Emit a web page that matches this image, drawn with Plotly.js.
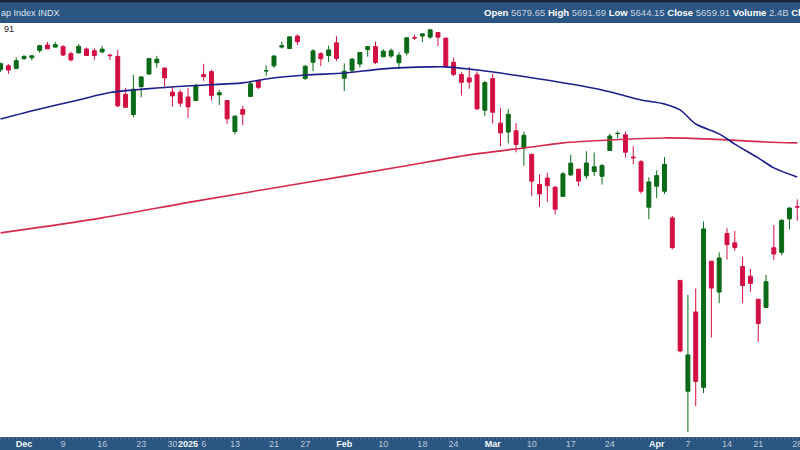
<!DOCTYPE html>
<html>
<head>
<meta charset="utf-8">
<script src="https://cdn.plot.ly/plotly-3.0.1.min.js"></script>
<style>html,body{margin:0;padding:0;background:#fff;}#chart{width:800px;height:450px;}</style>
</head>
<body>
<div id="chart"></div>
<script>
// Daily trading dates (S&P 500 Large Cap Index, daily candles)
var dates = ['2024-11-26','2024-11-27','2024-11-29','2024-12-02','2024-12-03','2024-12-04','2024-12-05','2024-12-06','2024-12-09','2024-12-10','2024-12-11','2024-12-12','2024-12-13','2024-12-16','2024-12-17','2024-12-18','2024-12-19','2024-12-20','2024-12-23','2024-12-24','2024-12-26','2024-12-27','2024-12-30','2024-12-31','2025-01-02','2025-01-03','2025-01-06','2025-01-07','2025-01-08','2025-01-10','2025-01-13','2025-01-14','2025-01-15','2025-01-16','2025-01-17','2025-01-21','2025-01-22','2025-01-23','2025-01-24','2025-01-27','2025-01-28','2025-01-29','2025-01-30','2025-01-31','2025-02-03','2025-02-04','2025-02-05','2025-02-06','2025-02-07','2025-02-10','2025-02-11','2025-02-12','2025-02-13','2025-02-14','2025-02-18','2025-02-19','2025-02-20','2025-02-21','2025-02-24','2025-02-25','2025-02-26','2025-02-27','2025-02-28','2025-03-03','2025-03-04','2025-03-05','2025-03-06','2025-03-07','2025-03-10','2025-03-11','2025-03-12','2025-03-13','2025-03-14','2025-03-17','2025-03-18','2025-03-19','2025-03-20','2025-03-21','2025-03-24','2025-03-25','2025-03-26','2025-03-27','2025-03-28','2025-03-31','2025-04-01','2025-04-02','2025-04-03','2025-04-04','2025-04-07','2025-04-08','2025-04-09','2025-04-10','2025-04-11','2025-04-14','2025-04-15','2025-04-16','2025-04-17','2025-04-21','2025-04-22','2025-04-23','2025-04-24','2025-04-25','2025-04-28'];

var openP = [6000.03,6014.11,6003.98,6040.11,6042.97,6069.39,6089.03,6081.38,6083.01,6057.59,6060.15,6074.29,6068.17,6063.79,6052.55,6047.65,5912.71,5842.00,5940.25,5984.63,6024.97,6006.17,5920.67,5919.74,5903.26,5891.07,5982.81,5993.26,5910.66,5890.66,5782.93,5859.15,5905.21,5961.62,5995.37,6014.12,6081.39,6076.32,6121.43,5969.04,6026.97,6057.70,6050.75,6096.79,5969.65,5998.14,6020.45,6072.22,6083.13,6046.40,6049.32,6025.08,6060.59,6115.52,6121.60,6117.76,6134.50,6114.10,6026.69,5982.73,5970.87,5981.88,5856.74,5968.33,5811.98,5781.41,5785.87,5726.01,5705.37,5603.65,5624.84,5594.45,5563.85,5635.60,5654.53,5632.37,5646.92,5630.73,5718.08,5775.86,5771.66,5695.64,5679.71,5527.91,5597.53,5580.76,5492.74,5292.14,4953.79,5193.57,4965.28,5353.15,5255.56,5441.96,5411.99,5335.75,5305.45,5232.94,5207.67,5395.92,5381.38,5489.73,5529.22];
var highP = [6025.42,6020.16,6044.17,6053.58,6052.07,6089.84,6099.97,6099.97,6088.51,6065.40,6092.59,6079.68,6078.58,6085.19,6057.68,6070.67,5935.52,5982.06,5978.25,6040.10,6049.75,6006.17,5940.79,5929.74,5935.09,5949.34,6021.04,6000.68,5927.89,5890.66,5838.81,5871.92,5960.61,5964.69,6014.96,6051.51,6100.81,6118.73,6128.18,6017.17,6074.54,6062.83,6086.64,6120.91,6022.13,6042.48,6062.86,6084.03,6101.28,6073.38,6076.28,6063.00,6116.91,6127.47,6129.63,6147.43,6134.50,6114.82,6043.65,5992.65,6009.82,5993.69,5959.40,5986.09,5865.08,5860.59,5812.08,5783.01,5705.37,5636.30,5642.19,5597.78,5645.27,5703.52,5654.53,5715.33,5711.15,5670.84,5775.14,5783.71,5783.62,5732.28,5685.89,5627.56,5650.57,5695.31,5499.53,5292.14,5246.41,5267.47,5481.34,5353.15,5381.46,5459.46,5450.41,5367.24,5328.31,5232.94,5309.60,5469.69,5489.40,5528.11,5553.66];
var lowP = [5992.27,5984.87,6003.98,6035.33,6033.39,6061.06,6079.98,6079.98,6048.63,6029.89,6060.15,6051.25,6035.77,6059.14,6035.19,5867.79,5866.07,5832.30,5902.57,5981.44,6007.37,5932.95,5869.16,5868.86,5829.53,5888.66,5960.01,5890.68,5874.78,5809.89,5773.31,5805.08,5905.21,5930.94,5978.44,6006.88,6076.13,6074.67,6088.74,5962.92,5994.63,6012.96,6027.46,6030.93,5923.93,5990.87,6007.06,6046.83,6019.96,6044.84,6042.34,6003.00,6051.01,6107.62,6099.51,6111.15,6084.59,6008.56,5977.83,5908.49,5932.69,5858.78,5837.66,5810.91,5732.59,5742.35,5711.64,5666.29,5564.02,5528.41,5546.09,5504.65,5563.85,5631.12,5597.76,5622.20,5632.33,5603.10,5718.08,5759.81,5694.41,5670.94,5572.42,5488.73,5558.52,5571.48,5390.83,5069.90,4835.04,4910.42,4948.43,5115.27,5220.77,5358.02,5386.44,5220.79,5255.58,5101.63,5207.67,5356.81,5371.96,5455.86,5483.37];
var closeP = [6021.63,5998.74,6032.38,6047.15,6049.88,6086.49,6075.11,6090.27,6052.85,6034.91,6084.19,6051.25,6051.09,6074.08,6050.61,5872.16,5867.08,5930.85,5974.07,6040.04,6037.59,5970.84,5906.94,5881.63,5868.55,5942.47,5975.38,5909.03,5918.25,5827.04,5836.22,5842.91,5949.91,5937.34,5996.66,6049.24,6086.37,6118.71,6101.24,6012.28,6067.70,6039.31,6071.17,6040.53,5994.57,6037.88,6061.48,6083.57,6025.99,6066.44,6068.50,6051.97,6115.07,6114.63,6129.58,6144.15,6117.52,6013.13,5983.25,5955.25,5956.06,5861.57,5954.50,5849.72,5778.15,5842.63,5738.52,5770.20,5614.56,5572.07,5599.30,5521.52,5638.94,5675.12,5614.66,5675.29,5662.89,5667.56,5767.57,5776.65,5712.20,5693.31,5580.94,5611.85,5633.07,5670.97,5396.52,5074.08,5062.25,4982.77,5456.90,5268.05,5363.36,5405.97,5396.63,5275.70,5282.70,5158.20,5287.76,5375.86,5484.77,5525.21,5528.75];

// 50-day moving average
var ma50Dates = ['2024-11-26','2024-12-04','2024-12-11','2024-12-17','2024-12-20','2024-12-26','2025-01-03','2025-01-14','2025-01-17','2025-01-27','2025-02-03','2025-02-10','2025-02-19','2025-02-21','2025-02-27','2025-03-04','2025-03-11','2025-03-17','2025-03-21','2025-03-26','2025-03-28','2025-04-02','2025-04-04','2025-04-08','2025-04-11','2025-04-15','2025-04-21','2025-04-23','2025-04-28'];
var ma50 = [5826,5861,5893,5919,5928,5935,5944,5953,5967,5981,5988,6003,6010,6010,5999,5988,5967,5949,5928,5907,5893,5879,5858,5809,5775,5740,5693,5659,5628];

// 200-day moving average
var ma200Dates = ['2024-11-26','2024-12-16','2025-01-03','2025-01-24','2025-02-12','2025-02-26','2025-03-10','2025-03-14','2025-03-24','2025-04-02','2025-04-10','2025-04-22','2025-04-28'];
var ma200 = [5444,5493,5548,5605,5662,5703,5730,5744,5754,5761,5757,5747,5744];

// x-axis tick labels
var tickDates = ['2024-12-02','2024-12-09','2024-12-16','2024-12-23','2024-12-30','2025-01-02','2025-01-06','2025-01-13','2025-01-21','2025-01-27','2025-02-03','2025-02-10','2025-02-18','2025-02-24','2025-03-03','2025-03-10','2025-03-17','2025-03-24','2025-04-01','2025-04-07','2025-04-14','2025-04-21','2025-04-28'];
var tickLabels = ['Dec','9','16','23','30','2025','6','13','21','27','Feb','10','18','24','Mar','10','17','24','Apr','7','14','21','28'];
var boldLabels = ['Dec','2025','Feb','Mar','Apr'];

var ticktext = tickLabels.map(function(t){
  return boldLabels.indexOf(t) >= 0 ? '<b><span style="color:#f4f7fa">' + t + '</span></b>' : t;
});

var GREEN = '#0a6a17', RED = '#d20f43', BAND = '#2b5681';

var traces = [
  {
    type: 'candlestick', x: dates, open: openP, high: highP, low: lowP, close: closeP,
    increasing: {line: {color: GREEN, width: 1}, fillcolor: GREEN},
    decreasing: {line: {color: RED, width: 1}, fillcolor: RED},
    whiskerwidth: 0, hoverinfo: 'none', showlegend: false
  },
  {
    type: 'scatter', mode: 'lines', x: ma200Dates, y: ma200,
    line: {color: '#d5294f', width: 1.6, shape: 'spline', smoothing: 0.8}, hoverinfo: 'none', showlegend: false
  },
  {
    type: 'scatter', mode: 'lines', x: ma50Dates, y: ma50,
    line: {color: '#1d1f8a', width: 1.6, shape: 'spline', smoothing: 0.8}, hoverinfo: 'none', showlegend: false
  }
];

var H = 414; // plot height in px (t=23, b=13)
function py(px){ return (437 - px) / H; }

var layout = {
  width: 800, height: 450,
  margin: {l: 0, r: 0, t: 23, b: 13, pad: 0},
  paper_bgcolor: '#ffffff', plot_bgcolor: '#ffffff',
  font: {family: 'Liberation Sans, Arial, sans-serif', size: 9, color: '#333'},
  boxgap: 0.28,
  xaxis: {
    type: 'category', range: [-0.077, 102.35], rangeslider: {visible: false},
    showgrid: false, zeroline: false, showline: false, ticks: '',
    tickmode: 'array', tickvals: tickDates, ticktext: ticktext, tickangle: 0,
    tickfont: {family: 'Liberation Sans, Arial, sans-serif', size: 9, color: '#b9c8d8'},
    ticklabeloverflow: 'allow', fixedrange: true
  },
  yaxis: {
    type: 'log', range: [3.68310, 3.79024], showgrid: false, zeroline: false,
    showticklabels: false, ticks: '', showline: false, fixedrange: true
  },
  shapes: [
    {type: 'rect', xref: 'paper', yref: 'paper', x0: 0, x1: 1, y0: 1, y1: py(0), fillcolor: BAND, line: {width: 0}, layer: 'below'},
    {type: 'rect', xref: 'paper', yref: 'paper', x0: 0, x1: 1, y0: py(2.5), y1: py(0), fillcolor: '#1c2838', line: {width: 0}, layer: 'below'},
    {type: 'rect', xref: 'paper', yref: 'paper', x0: 0, x1: 1, y0: py(451), y1: 0, fillcolor: BAND, line: {width: 0}, layer: 'below'},
    {type: 'line', xref: 'paper', yref: 'paper', x0: 0, x1: 1, y0: py(438), y1: py(438), line: {color: '#7290ad', width: 1, dash: '1px,3px'}, layer: 'below'}
  ],
  annotations: [
    {xref: 'paper', yref: 'paper', x: -1/800, y: py(12.5), xanchor: 'left', yanchor: 'middle', showarrow: false,
     text: 'ap Index INDX', font: {size: 9, color: '#dfe7ef'}},
    {xref: 'paper', yref: 'paper', x: 482/800, y: py(12.5), xanchor: 'left', yanchor: 'middle', showarrow: false,
     text: '<b>Open</b> <span style="color:#c6d3e0">5679.65</span> <b>High</b> <span style="color:#c6d3e0">5691.69</span> <b>Low</b> <span style="color:#c6d3e0">5644.15</span> <b>Close</b> <span style="color:#c6d3e0">5659.91</span> <b>Volume</b> <span style="color:#c6d3e0">2.4B</span> <b>Chg</b>',
     font: {size: 9.5, color: '#ffffff'}},
    {xref: 'paper', yref: 'paper', x: 2/800, y: py(29.5), xanchor: 'left', yanchor: 'middle', showarrow: false,
     text: '91', font: {size: 9, color: '#222222'}}
  ]
};

Plotly.newPlot('chart', traces, layout, {staticPlot: true, displayModeBar: false});
</script>
</body>
</html>
